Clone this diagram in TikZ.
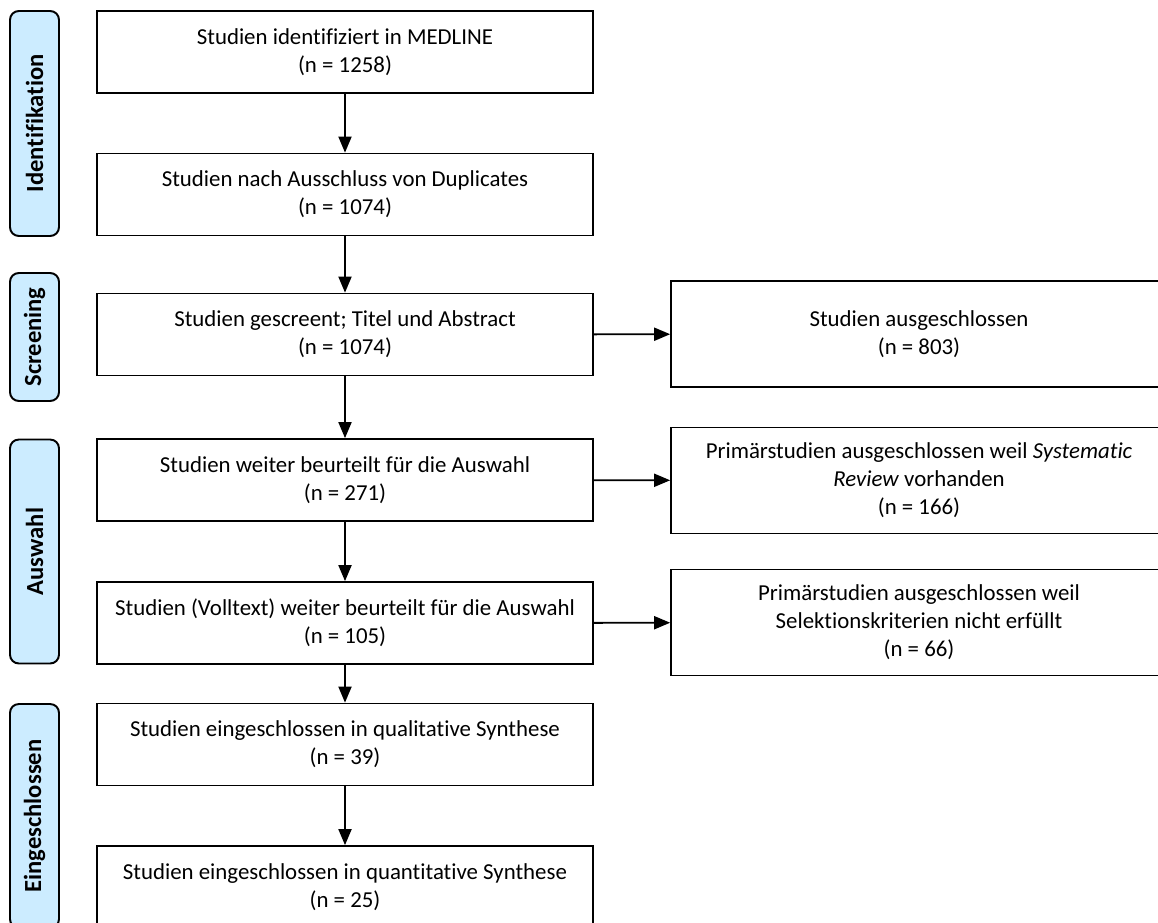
\documentclass[tikz,border=0pt]{standalone}
\usepackage{fontspec}
\setmainfont{Carlito}[Ligatures=NoCommon]
\usepackage{tikz}
\usetikzlibrary{arrows}
\usetikzlibrary{positioning}

\definecolor{phaseblue}{RGB}{204,236,255}

\begin{document}
\begin{tikzpicture}[x=0.02cm,y=-0.02cm,>=triangle 45,line width=1.1pt,
	every node/.style={font=\fontsize{13}{16}\selectfont},
	main box/.style={rectangle,draw,align=center,minimum width=9.92cm,minimum height=1.64cm,inner sep=0pt},
	side box/.style={rectangle,draw,align=center,minimum width=9.92cm,minimum height=2.12cm,inner sep=0pt},
	phase/.style={rectangle,draw,rounded corners=5pt,fill=phaseblue,rotate=90,minimum height=0.98cm,inner sep=0pt,font=\fontsize{14}{16}\selectfont\bfseries}]
	
	\useasboundingbox (0,0) rectangle (1158,922);
	
	% phases
	\node[phase,minimum width=4.5cm] (p1) at (34.5,123.5) {Identifikation};
	\node[phase,minimum width=2.56cm] (p2) at (34.5,337) {Screening};
	\node[phase,minimum width=4.48cm] (p3) at (34.5,551.5) {Auswahl};
	\node[phase,minimum width=4.48cm] (p4) at (34.5,816) {Eingeschlossen};
	
	% main column
	\node[main box] (s1) at (345,52) {Studien identifiziert in MEDLINE\\(n = 1258)};
	\node[main box] (s2) at (345,194.5) {Studien nach Ausschluss von Duplicates\\(n = 1074)};
	\node[main box] (s3) at (345,334.5) {Studien gescreent; Titel und Abstract\\(n = 1074)};
	\node[main box] (s4) at (345,480) {Studien weiter beurteilt für die Auswahl\\(n = 271)};
	\node[main box] (s5) at (345,623) {Studien (Volltext) weiter beurteilt für die Auswahl\\(n = 105)};
	\node[main box] (s6) at (345,744.5) {Studien eingeschlossen in qualitative Synthese\\(n = 39)};
	\node[main box] (s7) at (345,887) {Studien eingeschlossen in quantitative Synthese\\(n = 25)};
	
	% excluded
	\node[side box] (x1) at (919,334) {Studien ausgeschlossen\\(n = 803)};
	\node[side box] (x2) at (919,480.5) {Primärstudien ausgeschlossen weil \textit{Systematic}\\\textit{Review} vorhanden\\(n = 166)};
	\node[side box] (x3) at (919,622.5) {Primärstudien ausgeschlossen weil\\Selektionskriterien nicht erfüllt\\(n = 66)};
	
	\path[->]
	(s1) edge (s2)
	(s2) edge (s3)
	(s3) edge (s4)
	(s4) edge (s5)
	(s5) edge (s6)
	(s6) edge (s7)
	(s3) edge (x1)
	(s4) edge (x2)
	(s5) edge (x3);
\end{tikzpicture}
\end{document}
